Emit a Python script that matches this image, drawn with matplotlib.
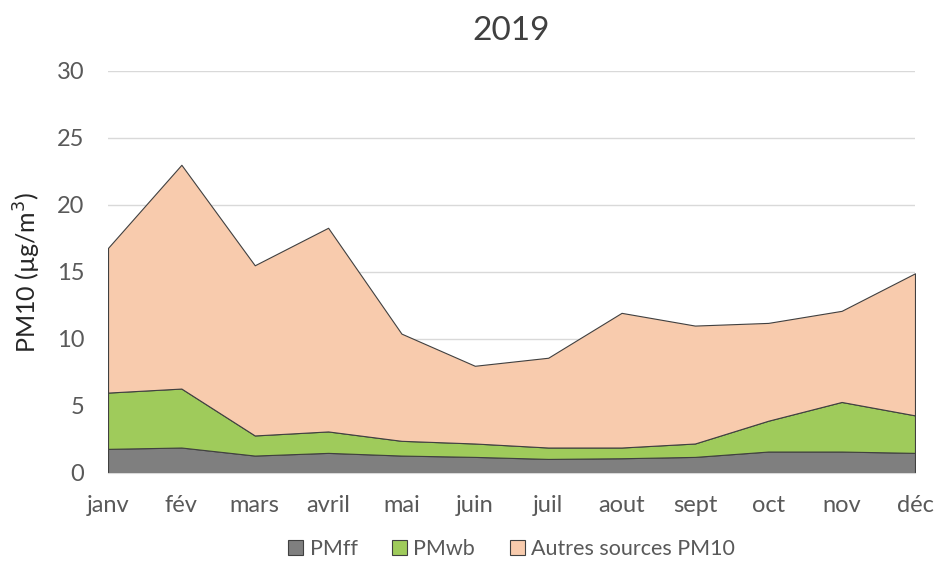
import matplotlib.pyplot as plt
import numpy as np

months = ['janv', 'fév', 'mars', 'avril', 'mai', 'juin', 'juil', 'aout', 'sept', 'oct', 'nov', 'déc']
pmff = [1.8, 1.9, 1.3, 1.5, 1.3, 1.2, 1.05, 1.1, 1.2, 1.6, 1.6, 1.5]
pmwb = [4.2, 4.4, 1.5, 1.6, 1.1, 1.0, 0.85, 0.8, 1.0, 2.3, 3.7, 2.8]
autres = [10.8, 16.7, 12.7, 15.2, 8.0, 5.8, 6.7, 10.05, 8.8, 7.3, 6.8, 10.6]
labels = ['PMff', 'PMwb', 'Autres sources PM10']
colors = ['#7f7f7f', '#9fcb5b', '#f8cbad']

plt.rcParams['font.family'] = ['Lato', 'DejaVu Sans']
txt = '#595959'

fig = plt.figure(figsize=(9.37, 5.62), dpi=100)
ax = fig.add_axes([0.1153, 0.1584, 0.8612, 0.7153])

x = np.arange(len(months))
polys = ax.stackplot(x, pmff, pmwb, autres, colors=colors, labels=labels,
                     edgecolor='#404040', linewidth=0.8, zorder=2)

ax.set_xlim(0, len(months) - 1)
ax.set_ylim(0, 30)
ax.set_yticks(np.arange(0, 31, 5))
ax.set_xticks(x)
ax.set_xticklabels(months)
ax.grid(axis='y', color='#d9d9d9', linewidth=1, zorder=0)
ax.set_axisbelow(True)
for s in ['top', 'right', 'left']:
    ax.spines[s].set_visible(False)
ax.spines['bottom'].set_color('#d9d9d9')
ax.tick_params(length=0, labelsize=17, colors=txt)
ax.tick_params(axis='x', pad=16)
ax.tick_params(axis='y', pad=17)

ax.set_ylabel('PM10 (µg/m$^3$)', fontsize=18, color='#262626', labelpad=10)
ax.set_title('2019', fontsize=24, color='#404040', pad=22)

ax.legend(loc='center', bbox_to_anchor=(0.5, -0.19), ncol=3, frameon=False,
          fontsize=15.5, labelcolor=txt, handlelength=0.7, handleheight=0.7,
          handletextpad=0.3, columnspacing=1.6)

fig.savefig('out.png', dpi=100)
